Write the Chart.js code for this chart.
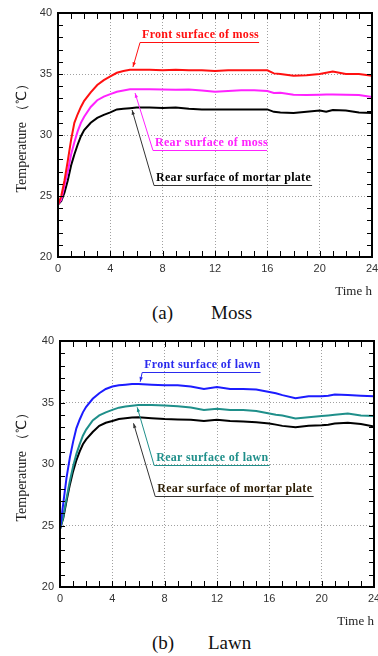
<!DOCTYPE html>
<html>
<head>
<meta charset="utf-8">
<script src="https://cdn.jsdelivr.net/npm/chart.js@4.4.1/dist/chart.umd.min.js"></script>
<style>
  body { margin: 0; background: #fff; width: 378px; height: 656px; overflow: hidden; position: relative; }
  .box { position: absolute; left: 0; width: 378px; }
  .cap { position: absolute; left: 0; width: 378px; height: 22px; font-family: "Liberation Serif", serif; font-size: 19px; line-height: 22px; color: #111; }
  .cap span { position: absolute; top: 0; }
</style>
</head>
<body>
<div class="box" style="top:0;height:300px"><canvas id="mossChart"></canvas></div>
<div class="cap" style="top:302px"><span style="left:152px">(a)</span><span style="left:211px">Moss</span></div>
<div class="box" style="top:328px;height:302px"><canvas id="lawnChart"></canvas></div>
<div class="cap" style="top:632px"><span style="left:152px">(b)</span><span style="left:208px">Lawn</span></div>
<script>
// time in hours
const hours = [0, 0.25, 0.5, 0.75, 1, 1.25, 1.5, 1.75, 2, 2.5, 3, 3.5, 4, 4.5, 5, 5.5, 6, 7, 8, 9, 10, 11, 12, 13, 14, 15, 16, 16.5, 17, 18, 19, 20, 20.5, 21, 22, 23, 24];

// (a) moss
const mossFront = [24.3, 25.0, 26.3, 27.9, 29.6, 31.0, 31.7, 32.3, 32.8, 33.5, 34.1, 34.5, 34.8, 35.1, 35.25, 35.35, 35.35, 35.35, 35.3, 35.35, 35.3, 35.3, 35.25, 35.3, 35.3, 35.3, 35.3, 35.05, 35.0, 34.85, 34.9, 35.0, 35.1, 35.2, 35.0, 35.0, 34.85];
const mossRear = [24.3, 24.7, 25.9, 27.0, 28.4, 29.4, 30.3, 31.0, 31.5, 32.3, 32.85, 33.15, 33.35, 33.55, 33.65, 33.74, 33.75, 33.75, 33.72, 33.7, 33.72, 33.65, 33.55, 33.6, 33.66, 33.66, 33.6, 33.45, 33.47, 33.3, 33.28, 33.3, 33.32, 33.32, 33.3, 33.28, 33.12];
const mossMortar = [24.3, 24.6, 25.3, 26.3, 27.5, 28.4, 29.2, 29.9, 30.4, 31.0, 31.4, 31.65, 31.85, 32.1, 32.15, 32.2, 32.25, 32.25, 32.22, 32.25, 32.15, 32.1, 32.1, 32.1, 32.1, 32.1, 32.1, 31.9, 31.85, 31.8, 31.9, 32.0, 31.9, 32.05, 32.0, 31.85, 31.8];

// (b) lawn
const lawnFront = [24.7, 26.8, 28.9, 30.5, 31.8, 32.9, 33.6, 34.2, 34.65, 35.3, 35.75, 36.1, 36.3, 36.4, 36.45, 36.5, 36.5, 36.45, 36.4, 36.4, 36.3, 36.1, 36.25, 36.1, 36.1, 36.05, 35.85, 35.75, 35.6, 35.35, 35.5, 35.5, 35.55, 35.65, 35.6, 35.55, 35.5];
const lawnRear = [24.7, 25.7, 27.2, 28.6, 29.8, 30.8, 31.6, 32.3, 32.8, 33.55, 33.95, 34.2, 34.4, 34.58, 34.68, 34.74, 34.8, 34.8, 34.75, 34.7, 34.6, 34.4, 34.5, 34.4, 34.4, 34.3, 34.1, 34.0, 33.95, 33.7, 33.8, 33.9, 33.95, 34.0, 34.1, 33.95, 33.9];
const lawnMortar = [24.7, 25.6, 27.0, 28.3, 29.4, 30.3, 31.0, 31.6, 32.0, 32.6, 33.1, 33.35, 33.5, 33.65, 33.72, 33.78, 33.8, 33.72, 33.65, 33.62, 33.6, 33.5, 33.6, 33.5, 33.45, 33.4, 33.3, 33.2, 33.1, 32.98, 33.1, 33.15, 33.2, 33.3, 33.35, 33.25, 33.05];

const xTicks = [0, 4, 8, 12, 16, 20, 24];
const yTicks = [20, 25, 30, 35, 40];

const serif = "'Liberation Serif', 'Times New Roman', serif";
const sans = "'Liberation Sans', Arial, sans-serif";

// black frame with inward minor ticks on all four sides
const frameTicks = {
  id: 'frameTicks',
  afterDatasetsDraw(chart) {
    const { ctx, chartArea: a, scales: { x, y } } = chart;
    ctx.save();
    ctx.strokeStyle = '#000';
    ctx.lineWidth = 1;
    ctx.beginPath();
    for (let t = 0; t <= 24; t++) {
      const px = Math.round(x.getPixelForValue(t)) + 0.5;
      ctx.moveTo(px, a.bottom); ctx.lineTo(px, a.bottom - 6);
      ctx.moveTo(px, a.top); ctx.lineTo(px, a.top + 6);
    }
    for (let v = 20; v <= 40; v++) {
      const py = Math.round(y.getPixelForValue(v)) + 0.5;
      ctx.moveTo(a.left, py); ctx.lineTo(a.left + 5, py);
      ctx.moveTo(a.right, py); ctx.lineTo(a.right - 5, py);
    }
    ctx.stroke();
    ctx.lineWidth = 2;
    ctx.strokeRect(a.left, a.top, a.right - a.left, a.bottom - a.top);
    ctx.restore();
  }
};

// underlined labels with a leader line pointing at a curve
function makeCallouts(items) {
  return {
    id: 'callouts',
    afterDatasetsDraw(chart) {
      const { ctx, scales: { x, y } } = chart;
      ctx.save();
      items.forEach(c => {
        const x0 = x.getPixelForValue(c.from[0]);
        const y0 = Math.round(y.getPixelForValue(c.from[1])) + 0.5;
        const x1 = x.getPixelForValue(c.to);
        const tx = x.getPixelForValue(c.tip[0]);
        const ty = y.getPixelForValue(c.tip[1]);
        ctx.strokeStyle = c.color;
        ctx.fillStyle = c.color;
        ctx.lineWidth = 1;
        ctx.beginPath();
        ctx.moveTo(x1, y0); ctx.lineTo(x0, y0); ctx.lineTo(tx, ty);
        ctx.stroke();
        const ang = Math.atan2(ty - y0, tx - x0);
        ctx.beginPath();
        ctx.moveTo(tx, ty);
        ctx.lineTo(tx - 5 * Math.cos(ang - 0.35), ty - 5 * Math.sin(ang - 0.35));
        ctx.lineTo(tx - 5 * Math.cos(ang + 0.35), ty - 5 * Math.sin(ang + 0.35));
        ctx.closePath();
        ctx.fill();
        ctx.fillStyle = c.textColor || c.color;
        ctx.font = "bold 12px " + serif;
        ctx.letterSpacing = '0.3px';
        ctx.textAlign = 'left';
        ctx.textBaseline = 'alphabetic';
        ctx.fillText(c.text, x0 + 2, y0 - 5);
      });
      ctx.restore();
    }
  };
}

function makeChart(id, series, notes, yWidth, rightPad) {
  return new Chart(document.getElementById(id), {
    type: 'line',
    data: {
      datasets: series.map(s => ({
        label: s.label,
        data: hours.map((h, i) => ({ x: h, y: s.values[i] })),
        borderColor: s.color,
        borderWidth: 2,
        pointRadius: 0,
        tension: 0,
        fill: false
      }))
    },
    options: {
      responsive: true,
      maintainAspectRatio: false,
      animation: false,
      layout: { padding: { top: 13, right: rightPad, left: 0, bottom: 0 } },
      plugins: { legend: { display: false }, tooltip: { enabled: false } },
      scales: {
        x: {
          type: 'linear', min: 0, max: 24,
          afterBuildTicks: s => { s.ticks = xTicks.map(v => ({ value: v })); },
          afterFit: s => { s.height = 43; s.paddingLeft = 0; s.paddingRight = 0; },
          grid: { color: '#a0a0a0', lineWidth: 1, drawTicks: false },
          border: { display: false, dash: [1, 2] },
          ticks: { padding: 5, color: '#333', font: { family: sans, size: 11 }, maxRotation: 0, autoSkip: false },
          title: { display: true, text: 'Time h', align: 'end', color: '#222', font: { family: serif, size: 13 }, padding: { bottom: 1 } }
        },
        y: {
          min: 20, max: 40,
          afterBuildTicks: s => { s.ticks = yTicks.map(v => ({ value: v })); },
          afterFit: s => { s.width = yWidth; s.paddingTop = 0; s.paddingBottom = 0; },
          grid: { color: '#a0a0a0', lineWidth: 1, drawTicks: false },
          border: { display: false, dash: [1, 2] },
          ticks: { padding: 6, color: '#333', font: { family: sans, size: 11 } },
          title: { display: true, text: 'Temperature （℃）', color: '#222', font: { family: serif, size: 14 }, padding: { top: 14 } }
        }
      }
    },
    plugins: [frameTicks, makeCallouts(notes)]
  });
}

makeChart('mossChart', [
  { label: 'Front surface of moss', values: mossFront, color: '#ff1010' },
  { label: 'Rear surface of moss', values: mossRear, color: '#ff22ff' },
  { label: 'Rear surface of mortar plate', values: mossMortar, color: '#000000' }
], [
  { text: 'Front surface of moss', color: '#ff1010', from: [6.27, 37.62], to: 15.37, tip: [5.73, 35.57] },
  { text: 'Rear surface of moss', color: '#ff22ff', from: [7.26, 28.77], to: 15.98, tip: [5.89, 33.44] },
  { text: 'Rear surface of mortar plate', color: '#333333', textColor: '#000', from: [7.34, 25.9], to: 19.42, tip: [5.66, 32.05] }
], 58, 6);

makeChart('lawnChart', [
  { label: 'Front surface of lawn', values: lawnFront, color: '#1c1cff' },
  { label: 'Rear surface of lawn', values: lawnRear, color: '#1f8f8a' },
  { label: 'Rear surface of mortar plate', values: lawnMortar, color: '#000000' }
], [
  { text: 'Front surface of lawn', color: '#2a2aee', from: [6.28, 37.5], to: 15.33, tip: [6.13, 36.69] },
  { text: 'Rear surface of lawn', color: '#1f8f8a', from: [7.2, 29.92], to: 16.02, tip: [5.9, 34.61] },
  { text: 'Rear surface of mortar plate', color: '#333333', textColor: '#2a1a00', from: [7.28, 27.4], to: 19.39, tip: [5.62, 33.31] }
], 60, 4);
</script>
</body>
</html>
